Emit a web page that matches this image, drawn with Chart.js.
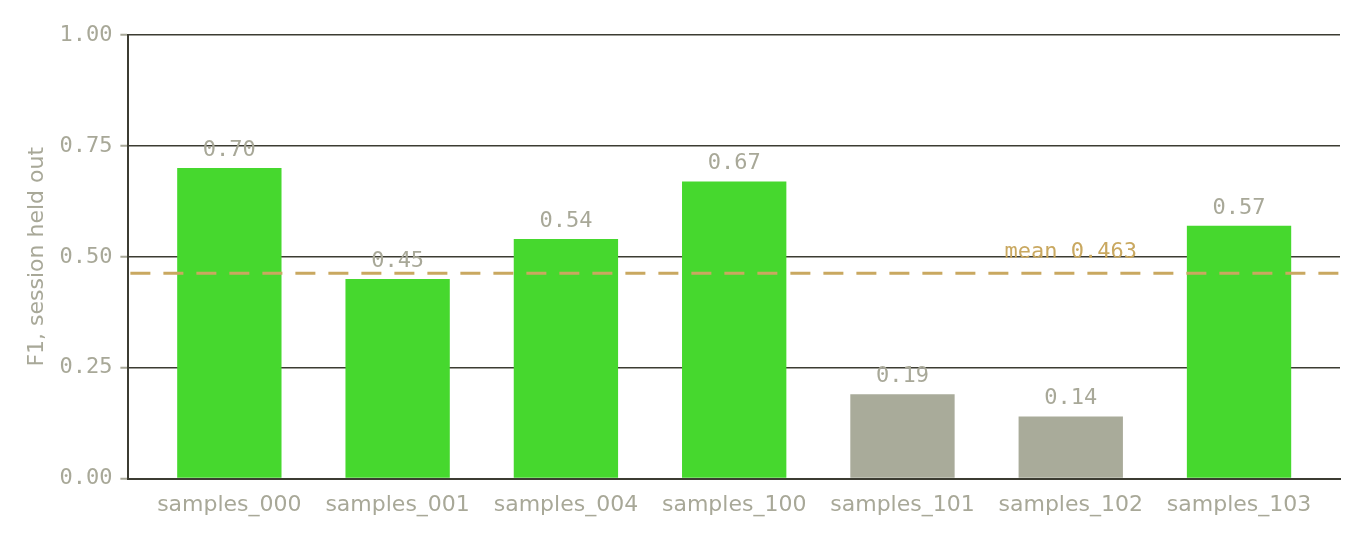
<!DOCTYPE html>
<html>
<head>
<meta charset="utf-8">
<script src="https://cdn.jsdelivr.net/npm/chart.js@4.4.1/dist/chart.umd.min.js"></script>
<style>
  html, body { margin: 0; padding: 0; background: #ffffff; }
  #wrap { width: 1366px; height: 542px; }
</style>
</head>
<body>
<div id="wrap"><canvas id="f1Chart"></canvas></div>
<script>
const sessions = ["samples_000", "samples_001", "samples_004", "samples_100", "samples_101", "samples_102", "samples_103"];
const f1Scores = [0.70, 0.45, 0.54, 0.67, 0.19, 0.14, 0.57];
const yTicks = [0, 0.25, 0.5, 0.75, 1.0];
const meanF1 = 0.463;

const green = "#46d82e";
const gray = "#a9ab9a";
const textGray = "#a8a898";
const gridDark = "#3c3c32";
const gold = "#c9a860";
const mono = "'DejaVu Sans Mono', monospace";
const sans = "'DejaVu Sans', sans-serif";

// bars under 0.25 are drawn grey
const barColors = f1Scores.map(v => v < 0.25 ? gray : green);
const points = f1Scores.map((v, i) => ({ x: i, y: v }));

const overlayPlugin = {
  id: "overlay",
  afterDatasetsDraw(chart) {
    const ctx = chart.ctx;
    const x = chart.scales.x;
    const y = chart.scales.y;
    const area = chart.chartArea;

    // mean line
    const my = y.getPixelForValue(meanF1);
    ctx.save();
    ctx.strokeStyle = gold;
    ctx.lineWidth = 3;
    ctx.setLineDash([20, 13]);
    ctx.beginPath();
    ctx.moveTo(area.left + 2, my);
    ctx.lineTo(area.right, my);
    ctx.stroke();
    ctx.setLineDash([]);

    ctx.font = "22px " + mono;
    ctx.fillStyle = gold;
    ctx.textAlign = "center";
    ctx.textBaseline = "alphabetic";
    ctx.fillText("mean " + meanF1.toFixed(3), x.getPixelForValue(5), my - 15);

    // value labels
    ctx.fillStyle = textGray;
    const meta = chart.getDatasetMeta(0);
    meta.data.forEach((bar, i) => {
      ctx.fillText(f1Scores[i].toFixed(2), bar.x, bar.y - 12);
    });
    ctx.restore();
  }
};

const ctx = document.getElementById("f1Chart").getContext("2d");
new Chart(ctx, {
  type: "bar",
  data: {
    datasets: [{
      data: points,
      backgroundColor: barColors,
      borderWidth: 0,
      categoryPercentage: 1.0,
      barPercentage: 0.62
    }]
  },
  options: {
    responsive: true,
    maintainAspectRatio: false,
    animation: false,
    devicePixelRatio: 1,
    layout: { padding: { top: 35, right: 26, bottom: 19, left: 20 } },
    plugins: {
      legend: { display: false },
      tooltip: { enabled: false }
    },
    scales: {
      x: {
        type: "linear",
        min: -0.6,
        max: sessions.length - 0.4,
        offset: false,
        afterBuildTicks: axis => { axis.ticks = sessions.map((s, i) => ({ value: i })); },
        grid: { display: false },
        border: { display: true, color: gridDark, width: 2 },
        ticks: {
          color: textGray,
          font: { family: sans, size: 22 },
          padding: 5,
          maxRotation: 0,
          autoSkip: false,
          callback: v => sessions[v]
        }
      },
      y: {
        min: 0,
        max: 1,
        afterBuildTicks: axis => { axis.ticks = yTicks.map(v => ({ value: v })); },
        grid: {
          color: gridDark,
          lineWidth: 1.5,
          drawTicks: true,
          tickLength: 8,
          tickColor: textGray,
          tickWidth: 2
        },
        border: { display: true, color: gridDark, width: 2 },
        ticks: {
          color: textGray,
          font: { family: mono, size: 22 },
          padding: 8,
          callback: v => Number(v).toFixed(2)
        },
        title: {
          display: true,
          text: "F1, session held out",
          color: textGray,
          font: { family: sans, size: 22 },
          padding: { bottom: 1 }
        }
      }
    }
  },
  plugins: [overlayPlugin]
});
</script>
</body>
</html>
